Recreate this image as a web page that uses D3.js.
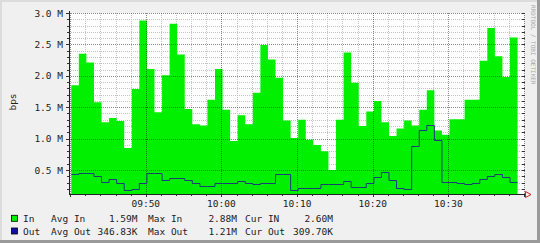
<!DOCTYPE html>
<html lang="en">
<head>
  <meta charset="UTF-8">
  <title>bps</title>
  <style>
    body { margin: 0; background: #f0f0f0; }
    svg text { font-family: "DejaVu Sans Mono", monospace; fill: #222; }
    .lbl { font-size: 9.5px; }
  </style>
</head>
<body>
  <div id="chart"></div>

  <script src="https://d3js.org/d3.v7.min.js"></script>
  <script>
    // In / Out traffic, one value per minute, in Mbit/s
    const inValues = [1.85, 2.35, 2.21, 1.58, 1.26, 1.33, 1.28, 0.85, 1.79, 2.88,
      2.11, 1.42, 2.01, 2.83, 2.34, 1.47, 1.23, 1.21, 1.62, 2.11,
      1.46, 0.96, 1.37, 1.23, 1.73, 2.49, 2.26, 1.97, 1.29, 1.01,
      1.30, 0.98, 0.90, 0.80, 0.50, 1.30, 2.37, 1.89, 1.20, 1.43,
      1.60, 1.26, 1.04, 1.16, 1.29, 1.21, 1.46, 1.77, 1.13, 1.06,
      1.31, 1.31, 1.62, 1.62, 2.24, 2.76, 2.31, 1.98, 2.61];
    const outValues = [0.44, 0.46, 0.45, 0.41, 0.31, 0.36, 0.29, 0.18, 0.20, 0.29,
      0.46, 0.45, 0.34, 0.38, 0.38, 0.34, 0.30, 0.25, 0.24, 0.30,
      0.29, 0.29, 0.32, 0.29, 0.28, 0.29, 0.29, 0.44, 0.44, 0.18,
      0.21, 0.22, 0.22, 0.28, 0.27, 0.27, 0.33, 0.23, 0.23, 0.30,
      0.39, 0.47, 0.34, 0.21, 0.20, 0.88, 1.13, 1.21, 0.97, 0.31,
      0.31, 0.29, 0.28, 0.30, 0.36, 0.41, 0.43, 0.39, 0.31];

    const yTicks = [0.5, 1.0, 1.5, 2.0, 2.5, 3.0];
    const yTickLabels = ["0.5 M", "1.0 M", "1.5 M", "2.0 M", "2.5 M", "3.0 M"];
    const xTickLabels = ["09:50", "10:00", "10:10", "10:20", "10:30"];

    const legendIn = ["In", "Avg In", "1.59M", "Max In", "2.88M", "Cur IN", "2.60M"];
    const legendOut = ["Out", "Avg Out", "346.83K", "Max Out", "1.21M", "Cur Out", "309.70K"];

    const day = (h, m, s) => new Date(2000, 0, 1, h, m, s || 0);
    const startTime = day(9, 40, 9);

    const width = 540, height = 243;
    const plotLeft = 69, plotRight = 524, plotTop = 13, plotBottom = 194;
    const inColor = "#00f000", outColor = "#1c3c78";

    const svg = d3.select("#chart").append("svg")
      .attr("width", width).attr("height", height);

    // frame
    svg.append("rect").attr("width", width).attr("height", height).attr("fill", "#f0f0f0");
    svg.append("rect").attr("x", 0).attr("y", 0).attr("width", width).attr("height", 2).attr("fill", "#dcdcdc");
    svg.append("rect").attr("x", 0).attr("y", 0).attr("width", 2).attr("height", height).attr("fill", "#dcdcdc");
    svg.append("rect").attr("x", 0).attr("y", height - 3).attr("width", width).attr("height", 3).attr("fill", "#9a9a9a");
    svg.append("rect").attr("x", width - 3).attr("y", 0).attr("width", 3).attr("height", height).attr("fill", "#9a9a9a");

    const x = d3.scaleTime().domain([day(9, 39, 51), day(10, 40, 0)]).range([plotLeft, plotRight]);
    const y = d3.scaleLinear().domain([0.118, 3.0]).range([plotBottom, plotTop]);

    const toSeries = vals => {
      const s = vals.map((v, i) => ({ t: d3.timeMinute.offset(startTime, i), v }));
      s.push({ t: d3.timeMinute.offset(startTime, vals.length), v: vals[vals.length - 1] });
      return s;
    };
    const inSeries = toSeries(inValues);
    const outSeries = toSeries(outValues);

    svg.append("rect").attr("x", plotLeft).attr("y", plotTop)
      .attr("width", plotRight - plotLeft).attr("height", plotBottom - plotTop).attr("fill", "#fff");

    const crisp = v => Math.round(v) + 0.5;
    const minorY = d3.range(2, 30).map(k => k / 10).filter(v => Math.round(v * 10) % 5 !== 0);
    const allMinutes = x.ticks(d3.timeMinute.every(2));
    const minorX = allMinutes.filter(d => d.getMinutes() % 10 !== 0);
    const majorX = allMinutes.filter(d => d.getMinutes() % 10 === 0);

    // minor grid
    const grid = svg.append("g").attr("stroke", "#c4c4c4").attr("stroke-dasharray", "1,1");
    grid.selectAll(".gy").data(minorY).join("line")
      .attr("x1", plotLeft).attr("x2", plotRight)
      .attr("y1", d => crisp(y(d))).attr("y2", d => crisp(y(d)));
    grid.selectAll(".gx").data(minorX).join("line")
      .attr("y1", plotTop).attr("y2", plotBottom)
      .attr("x1", d => crisp(x(d))).attr("x2", d => crisp(x(d)));

    // In area
    svg.append("path").datum(inSeries)
      .attr("fill", inColor)
      .attr("d", d3.area().curve(d3.curveStepAfter)
        .x(d => x(d.t)).y0(plotBottom).y1(d => y(d.v)));

    // major grid on top
    const mgrid = svg.append("g").attr("stroke", "rgba(0,0,0,0.45)").attr("stroke-dasharray", "1,1");
    mgrid.selectAll(".my").data(yTicks).join("line")
      .attr("x1", plotLeft).attr("x2", plotRight)
      .attr("y1", d => crisp(y(d))).attr("y2", d => crisp(y(d)));
    mgrid.selectAll(".mx").data(majorX).join("line")
      .attr("y1", plotTop).attr("y2", plotBottom)
      .attr("x1", d => crisp(x(d))).attr("x2", d => crisp(x(d)));

    // Out line
    svg.append("path").datum(outSeries)
      .attr("fill", "none").attr("stroke", outColor).attr("stroke-width", 1)
      .attr("d", d3.line().curve(d3.curveStepAfter)
        .x(d => x(d.t)).y(d => crisp(y(d.v))));

    // ticks
    const ticks = svg.append("g").attr("stroke", "#333");
    ticks.selectAll(".ty").data(minorY.concat(yTicks)).join("line")
      .attr("x1", d => yTicks.includes(d) ? plotLeft - 3 : plotLeft - 2).attr("x2", plotLeft)
      .attr("y1", d => crisp(y(d))).attr("y2", d => crisp(y(d)));
    ticks.selectAll(".tyr").data(minorY.concat(yTicks)).join("line")
      .attr("x1", plotRight - 2).attr("x2", plotRight + 1)
      .attr("y1", d => crisp(y(d))).attr("y2", d => crisp(y(d)));
    ticks.selectAll(".tx").data(allMinutes).join("line")
      .attr("y1", plotBottom).attr("y2", d => d.getMinutes() % 10 === 0 ? plotBottom + 3 : plotBottom + 2)
      .attr("x1", d => crisp(x(d))).attr("x2", d => crisp(x(d)));

    // axes
    svg.append("line").attr("x1", plotLeft + 0.5).attr("x2", plotLeft + 0.5)
      .attr("y1", plotTop - 2).attr("y2", plotBottom + 1).attr("stroke", "#222");
    svg.append("line").attr("x1", plotLeft).attr("x2", plotRight + 2)
      .attr("y1", plotBottom + 0.5).attr("y2", plotBottom + 0.5).attr("stroke", "#222");
    svg.append("path")
      .attr("d", `M${plotRight + 1.5},${plotBottom - 2.5} L${plotRight + 7},${plotBottom + 0.5} L${plotRight + 1.5},${plotBottom + 3.5} Z`)
      .attr("fill", "none").attr("stroke", "#d02020");

    // y labels
    svg.selectAll(".ylab").data(yTicks).join("text")
      .attr("class", "lbl")
      .attr("x", 63).attr("y", d => y(d))
      .attr("text-anchor", "end").attr("dominant-baseline", "central")
      .text((d, i) => yTickLabels[i]);

    // x labels
    const parseHM = d3.timeParse("%H:%M");
    svg.selectAll(".xlab").data(xTickLabels).join("text")
      .attr("class", "lbl")
      .attr("x", d => { const p = parseHM(d); return x(day(p.getHours(), p.getMinutes())); })
      .attr("y", 203.5)
      .attr("text-anchor", "middle").attr("dominant-baseline", "central")
      .text(d => d);

    svg.append("text").attr("class", "lbl")
      .attr("transform", "translate(12.5,102) rotate(-90)")
      .attr("text-anchor", "middle").attr("dominant-baseline", "central")
      .text("bps");

    svg.append("text")
      .attr("transform", "translate(530.5,5) rotate(90)")
      .style("font-size", "6px").style("fill", "#a8a8a8")
      .text("RRDTOOL / TOBI OETIKER");

    // legend
    const colX = [23, 51, 137.5, 148, 237, 245, 333];
    const colAnchor = ["start", "start", "end", "start", "end", "start", "end"];
    [[legendIn, inColor, 218.3], [legendOut, "#1010a0", 231]].forEach(([row, color, cy]) => {
      svg.append("rect").attr("x", 11.5).attr("y", cy - 3).attr("width", 6).attr("height", 6)
        .attr("fill", color).attr("stroke", "#000").attr("stroke-width", 0.8);
      svg.selectAll(null).data(row).join("text")
        .attr("class", "lbl")
        .attr("x", (d, i) => colX[i]).attr("y", cy)
        .attr("text-anchor", (d, i) => colAnchor[i]).attr("dominant-baseline", "central")
        .text(d => d);
    });
  </script>
</body>
</html>
